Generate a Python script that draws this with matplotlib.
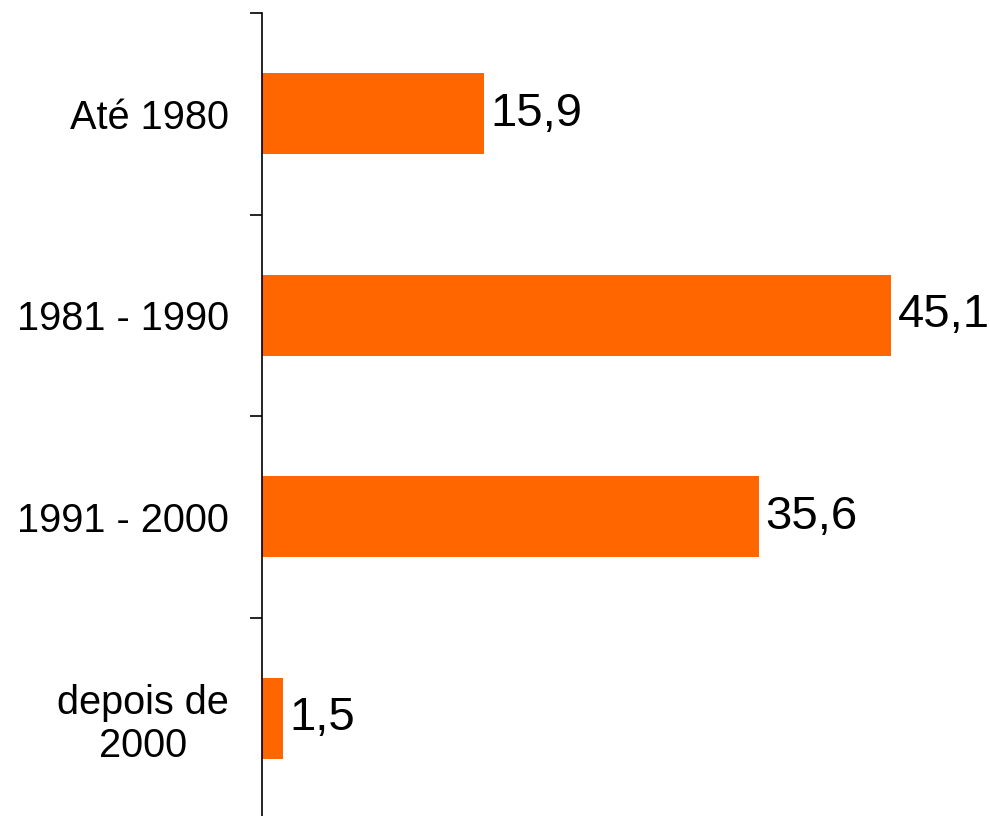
import matplotlib
matplotlib.use("Agg")
import matplotlib.pyplot as plt
import numpy as np

categories = ["Até 1980", "1981 - 1990", "1991 - 2000", "depois de\n2000"]
values = [15.9, 45.1, 35.6, 1.5]
value_labels = ["15,9", "45,1", "35,6", "1,5"]

plt.rcParams['font.family'] = ['Liberation Sans', 'DejaVu Sans']

W, H = 990, 816
fig = plt.figure(figsize=(W / 100, H / 100), dpi=100)
left_px, top_px, bottom_px = 262, 13, 819
x_max = 50
px_per_unit = 13.95
width_px = x_max * px_per_unit
ax = fig.add_axes([left_px / W, (H - bottom_px) / H, width_px / W, (bottom_px - top_px) / H])

pos = np.arange(len(categories))
ax.barh(pos, values, height=0.40, color="#FF6600")
for p, v, lab in zip(pos, values, value_labels):
    ax.text(v + 0.45, p, lab, va="center", ha="left", fontsize=34, color="black")

ax.set_ylim(len(categories) - 0.5, -0.5)
ax.set_xlim(0, x_max)
ax.set_yticks(pos)
ax.set_yticklabels(categories, fontsize=28.6, multialignment="center", linespacing=1.15)
ax.set_yticks(np.arange(-0.5, len(categories), 1.0), minor=True)
ax.tick_params(axis="y", which="major", length=0, pad=24)
ax.tick_params(axis="y", which="minor", length=9, width=1.2, color="black")
ax.set_xticks([])
for s in ["top", "right", "bottom"]:
    ax.spines[s].set_visible(False)
ax.spines["left"].set_linewidth(1.2)

fig.savefig("out.png", dpi=100)
